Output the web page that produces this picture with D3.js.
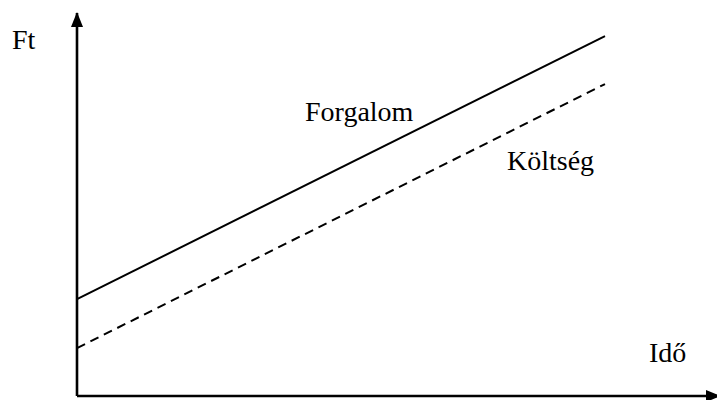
<!DOCTYPE html>
<html>
<head>
<meta charset="utf-8">
<script src="https://cdn.jsdelivr.net/npm/d3@7"></script>
<style>
  body { margin: 0; background: #fff; }
</style>
</head>
<body>
<svg></svg>
<script>
// SET UP THE CANVAS
var w = 717;
var h = 400;

// DATA (arbitrary units)
var ido = [0, 82.5];
var forgalom = [25.5, 94.7];
var koltseg = [12.6, 82.1];

var svg = d3.select("svg")
  .attr("width", w)
  .attr("height", h);

// scales
var xScale = d3.scaleLinear().domain([0, 100]).range([77, 717]);
var yScale = d3.scaleLinear().domain([0, 100]).range([396, 16]);

var lineMaker = d3.line()
  .x(function (d) { return xScale(d[0]); })
  .y(function (d) { return yScale(d[1]); });

// arrow heads
var defs = svg.append("defs");
defs.append("marker")
  .attr("id", "arrow")
  .attr("viewBox", "0 0 15 12")
  .attr("refX", 14)
  .attr("refY", 6)
  .attr("markerWidth", 15)
  .attr("markerHeight", 12)
  .attr("markerUnits", "userSpaceOnUse")
  .attr("orient", "auto")
  .append("path")
  .attr("d", "M0,0 L15,6 L0,12 Z")
  .attr("fill", "#000");

// AXES
svg.append("line")
  .attr("x1", xScale(0)).attr("y1", yScale(0))
  .attr("x2", xScale(0)).attr("y2", 13)
  .attr("stroke", "#000")
  .attr("stroke-width", 2.6)
  .attr("marker-end", "url(#arrow)");

svg.append("line")
  .attr("x1", xScale(0)).attr("y1", yScale(0))
  .attr("x2", 720).attr("y2", yScale(0))
  .attr("stroke", "#000")
  .attr("stroke-width", 2.6)
  .attr("marker-end", "url(#arrow)");

// LINES
svg.append("path")
  .attr("d", lineMaker(d3.zip(ido, forgalom)))
  .attr("stroke", "#000")
  .attr("stroke-width", 2)
  .attr("fill", "none");

svg.append("path")
  .attr("d", lineMaker(d3.zip(ido, koltseg)))
  .attr("stroke", "#000")
  .attr("stroke-width", 2)
  .attr("stroke-dasharray", "9,6")
  .attr("fill", "none");

// LABELS
var labels = [
  { t: "Ft", x: 12, y: 49 },
  { t: "Forgalom", x: 305, y: 121 },
  { t: "Költség", x: 507, y: 170 },
  { t: "Idő", x: 649, y: 362 }
];
svg.selectAll("text.lbl")
  .data(labels)
  .enter()
  .append("text")
  .attr("class", "lbl")
  .attr("x", function (d) { return d.x; })
  .attr("y", function (d) { return d.y; })
  .attr("font-family", "'Liberation Serif', 'DejaVu Serif', serif")
  .attr("font-size", 28)
  .attr("fill", "#000")
  .text(function (d) { return d.t; });
</script>
</body>
</html>
